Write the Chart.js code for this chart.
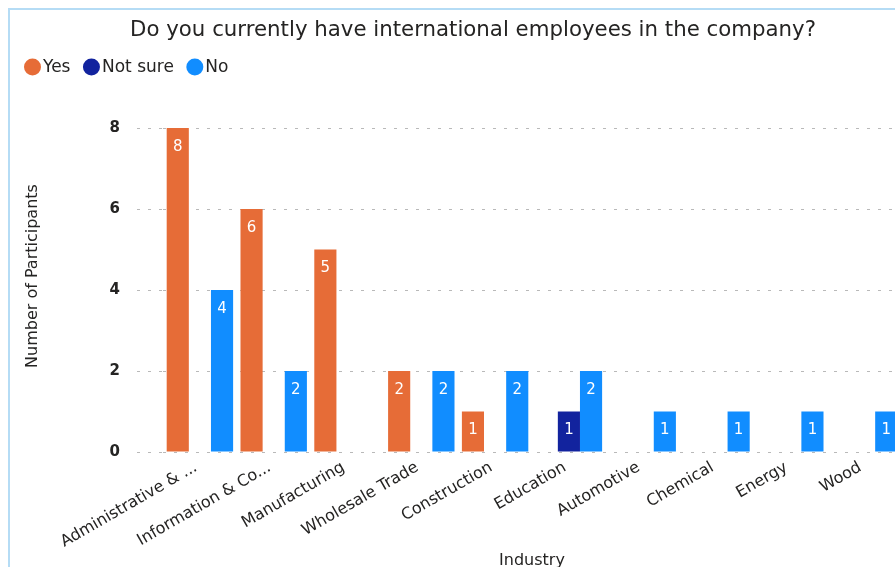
<!DOCTYPE html>
<html>
<head>
<meta charset="utf-8">
<title>International employees by industry</title>
<script src="https://cdn.jsdelivr.net/npm/chart.js@4.4.1/dist/chart.umd.min.js"></script>
<style>
  html, body { margin: 0; padding: 0; background: #fff; overflow: hidden; }
  #frame {
    position: absolute; left: 8px; top: 8px;
    width: 940px; height: 600px;
    border: 2px solid #b5dcf5;
  }
  #wrap { position: absolute; left: 0; top: 0; width: 924px; height: 580px; }
</style>
</head>
<body>
<div id="frame">
  <div id="wrap"><canvas id="myChart"></canvas></div>
</div>
<script>
const industries = [
  'Administrative & ...', 'Information & Co...', 'Manufacturing', 'Wholesale Trade',
  'Construction', 'Education', 'Automotive', 'Chemical', 'Energy', 'Wood'
];
const yesCounts     = [8, 6, 5, 2, 1, 0, 0, 0, 0, 0];
const notSureCounts = [0, 0, 0, 0, 0, 1, 0, 0, 0, 0];
const noCounts      = [4, 2, 0, 2, 2, 2, 1, 1, 1, 1];
const yTicks = [0, 2, 4, 6, 8];

const chartTitle = 'Do you currently have international employees in the company?';
const yTitle = 'Number of Participants';
const xTitle = 'Industry';

const FONT = '"DejaVu Sans", "Liberation Sans", Arial, sans-serif';
const TEXT = '#252423';
const GRID = '#b9b9b9';

// white value printed inside the top of each bar
const barLabels = {
  id: 'barLabels',
  afterDatasetsDraw(chart) {
    const ctx = chart.ctx;
    ctx.save();
    ctx.font = '15px ' + FONT;
    ctx.fillStyle = '#ffffff';
    ctx.textAlign = 'center';
    ctx.textBaseline = 'middle';
    chart.data.datasets.forEach((ds, i) => {
      chart.getDatasetMeta(i).data.forEach((bar, j) => {
        const v = ds.data[j];
        if (!v) return;
        ctx.fillText(String(v), bar.x, bar.y + 19);
      });
    });
    ctx.restore();
  }
};

// title, dot legend and the rotated y title, drawn in the top padding
const header = {
  id: 'header',
  afterDraw(chart) {
    const ctx = chart.ctx;
    ctx.save();
    ctx.fillStyle = TEXT;
    ctx.textBaseline = 'middle';

    ctx.font = '21.3px ' + FONT;
    ctx.textAlign = 'center';
    ctx.fillText(chartTitle, 463, 20.5);

    ctx.font = '17px ' + FONT;
    ctx.textAlign = 'left';
    let x = 22.5;
    const y = 57;
    chart.data.datasets.forEach(ds => {
      ctx.fillStyle = ds.backgroundColor;
      ctx.beginPath();
      ctx.arc(x, y, 8.5, 0, Math.PI * 2);
      ctx.fill();
      ctx.fillStyle = TEXT;
      ctx.fillText(ds.label, x + 10.5, y + 1);
      x += 10.5 + ctx.measureText(ds.label).width + 21;
    });

    ctx.font = '16px ' + FONT;
    ctx.textAlign = 'center';
    ctx.translate(23, 266);
    ctx.rotate(-Math.PI / 2);
    ctx.fillText(yTitle, 0, 0);
    ctx.restore();
  }
};

const ctx = document.getElementById('myChart').getContext('2d');
const myChart = new Chart(ctx, {
  type: 'bar',
  data: {
    labels: industries,
    datasets: [
      { label: 'Yes', data: yesCounts, backgroundColor: '#E66C37' },
      { label: 'Not sure', data: notSureCounts, backgroundColor: '#12239E' },
      { label: 'No', data: noCounts, backgroundColor: '#118DFF' }
    ]
  },
  options: {
    responsive: true,
    maintainAspectRatio: false,
    animation: false,
    categoryPercentage: 0.9,
    barPercentage: 1.0,
    layout: { padding: { left: 8, right: 33, top: 118, bottom: 16 } },
    plugins: {
      legend: { display: false },
      tooltip: { enabled: false },
      title: { display: false }
    },
    scales: {
      x: {
        grid: { display: false, drawTicks: false },
        border: { display: false },
        ticks: {
          autoSkip: false,
          minRotation: 30,
          maxRotation: 30,
          padding: 6,
          labelOffset: -4,
          color: TEXT,
          font: { family: FONT, size: 16 }
        },
        title: {
          display: true,
          text: xTitle,
          color: TEXT,
          font: { family: FONT, size: 16 }
        },
        afterFit(scale) { scale.height = 122; }
      },
      y: {
        min: 0,
        max: 8,
        afterBuildTicks(scale) { scale.ticks = yTicks.map(v => ({ value: v })); },
        grid: {
          color: GRID,
          lineWidth: 1,
          tickLength: 26,
          tickColor: GRID,
          tickBorderDash: [3, 8]
        },
        border: { display: false, dash: [3, 8] },
        ticks: {
          padding: 17,
          color: TEXT,
          font: { family: FONT, size: 15, weight: 'bold' }
        },
        afterFit(scale) { scale.width = 145; }
      }
    }
  },
  plugins: [barLabels, header]
});
</script>
</body>
</html>
